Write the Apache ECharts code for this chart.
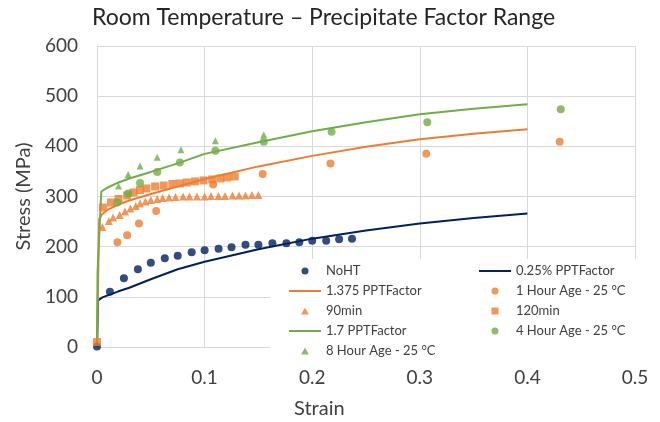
<!DOCTYPE html>
<html>
<head>
<meta charset="utf-8">
<script src="https://cdn.jsdelivr.net/npm/echarts@6/dist/echarts.min.js"></script>
<style>html,body{margin:0;padding:0;background:#fff}#c{width:660px;height:422px}</style>
</head>
<body>
<div id="c"></div>
<script>
// ---- Data (strain, stress MPa) ----
const noHT_strain = [0, 0.012, 0.025, 0.038, 0.050, 0.063, 0.075, 0.088, 0.100, 0.113, 0.125, 0.138, 0.150, 0.163, 0.176, 0.188, 0.200, 0.213, 0.225, 0.237];
const noHT_stress = [1, 110, 137, 155, 168, 177, 182, 189, 193, 196, 199, 204, 204, 207, 207, 209, 212, 212, 215, 216];

const ppt025_strain = [0, 0.001, 0.005, 0.01, 0.02, 0.03, 0.05, 0.075, 0.1, 0.15, 0.2, 0.25, 0.3, 0.35, 0.4];
const ppt025_stress = [0, 93, 99, 103, 111, 118, 135, 155, 170, 195, 216, 232, 246, 257, 266];

const ppt1375_strain = [0, 0.002, 0.005, 0.01, 0.02, 0.03, 0.05, 0.075, 0.1, 0.15, 0.2, 0.25, 0.3, 0.35, 0.4];
const ppt1375_stress = [0, 255, 265, 274, 284, 292, 305, 320, 335, 360, 381, 399, 414, 425, 434];

const hr1_strain = [0.019, 0.028, 0.039, 0.055, 0.108, 0.154, 0.217, 0.306, 0.430];
const hr1_stress = [209, 223, 246, 271, 324, 345, 366, 385, 409];

const min90_strain = [0.005, 0.011, 0.015, 0.021, 0.026, 0.031, 0.036, 0.040, 0.045, 0.050, 0.056, 0.061, 0.067, 0.073, 0.080, 0.086, 0.093, 0.100, 0.106, 0.113, 0.119, 0.126, 0.132, 0.138, 0.144, 0.150];
const min90_stress = [239, 251, 258, 263, 270, 276, 281, 286, 290, 293, 295, 297, 298, 299, 300, 300, 300, 300, 301, 301, 301, 302, 302, 302, 303, 303];

const min120_strain = [0, 0.0055, 0.013, 0.020, 0.028, 0.034, 0.040, 0.046, 0.054, 0.062, 0.070, 0.077, 0.0835, 0.091, 0.099, 0.107, 0.1145, 0.121, 0.128];
const min120_stress = [10, 278, 288, 295, 302, 308, 313, 316, 320, 322, 325, 326, 328, 330, 332, 334, 336, 338, 340];

const ppt17_strain = [0, 0.0005, 0.004, 0.01, 0.02, 0.03, 0.05, 0.075, 0.1, 0.15, 0.2, 0.25, 0.3, 0.35, 0.4];
const ppt17_stress = [0, 150, 310, 318, 328, 336, 349, 366, 385, 408, 430, 448, 464, 475, 484];

const hr4_strain = [0.019, 0.029, 0.040, 0.056, 0.077, 0.110, 0.155, 0.218, 0.307, 0.431];
const hr4_stress = [288, 306, 327, 349, 368, 391, 409, 429, 448, 474];

const hr8_strain = [0.020, 0.029, 0.040, 0.056, 0.078, 0.110, 0.155];
const hr8_stress = [321, 344, 361, 378, 393, 411, 423];

const xTicks = { min: 0, max: 0.5, interval: 0.1 };
const yTicks = { min: 0, max: 600, interval: 100 };

const NAVY = '#002060', ORANGE = '#ED7D31', GREEN = '#70AD47';
const zip = (a, b) => a.map((v, i) => [v, b[i]]);
const FONT = 'Lato';
const TXT = '#404040';

const TRI_ICON = 'path://M5,0 L10,9 L0,9 Z';
const SQ_ICON = 'path://M0,0 L10,0 L10,10 L0,10 Z';

const chart = echarts.init(document.getElementById('c'), null, { renderer: 'canvas' });

function scatter(name, xs, ys, color, symbol, size) {
  return { name, type: 'scatter', data: zip(xs, ys), symbol, symbolSize: size,
    itemStyle: { color }, z: 2 };
}
function line(name, xs, ys, color) {
  return { name, type: 'line', data: zip(xs, ys), showSymbol: false, symbol: 'none',
    lineStyle: { color, width: 2 }, itemStyle: { color }, z: 2 };
}
const lineItem = (name) => ({ name, itemStyle: { opacity: 0, color: 'rgba(0,0,0,0)' } });
const markItem = (name, icon) => ({ name, icon });

const legendCommon = {
  orient: 'vertical', itemWidth: 32, itemHeight: 7, itemGap: 4, itemTextGap: 3,
  symbolKeepAspect: true,
  textStyle: { fontFamily: FONT, fontSize: 13, color: TXT, lineHeight: 16 },
  padding: 0, z: 5
};

chart.setOption({
  animation: false,
  backgroundColor: '#fff',
  title: [
    { text: 'Room Temperature \u2013 Precipitate Factor Range', left: 92, top: 6, padding: 0,
      textStyle: { fontFamily: FONT, fontSize: 23, fontWeight: 'normal', color: '#262626' } },
    { text: 'Strain', left: 294, top: 399, padding: 0,
      textStyle: { fontFamily: FONT, fontSize: 20, fontWeight: 'normal', color: TXT } }
  ],
  grid: { left: 97, right: 25, top: 46, bottom: 75, containLabel: false },
  xAxis: {
    type: 'value', min: xTicks.min, max: xTicks.max, interval: xTicks.interval,
    axisLine: { show: true, lineStyle: { color: '#D9D9D9', width: 1 } },
    axisTick: { show: false },
    axisLabel: { fontFamily: FONT, fontSize: 19, color: TXT, margin: 21 },
    splitLine: { show: true, lineStyle: { color: '#D9D9D9', width: 1 } }
  },
  yAxis: {
    type: 'value', min: yTicks.min, max: yTicks.max, interval: yTicks.interval,
    name: 'Stress (MPa)', nameLocation: 'middle', nameGap: 62, nameRotate: 90,
    nameTextStyle: { fontFamily: FONT, fontSize: 20, color: TXT },
    axisLine: { show: true, lineStyle: { color: '#D9D9D9', width: 1 } },
    axisTick: { show: false },
    axisLabel: { fontFamily: FONT, fontSize: 19, color: TXT, margin: 19 },
    splitLine: { show: true, lineStyle: { color: '#D9D9D9', width: 1 } }
  },
  graphic: [
    { type: 'rect', left: 270, top: 259, shape: { width: 385, height: 106 },
      style: { fill: '#fff' }, z: 3 }
  ],
  legend: [
    Object.assign({}, legendCommon, { left: 288, top: 263,
      data: [markItem('NoHT', 'circle'), lineItem('1.375 PPTFactor'), markItem('90min', TRI_ICON),
             lineItem('1.7 PPTFactor'), markItem('8 Hour Age - 25 \u00B0C', TRI_ICON)] }),
    Object.assign({}, legendCommon, { left: 478, top: 263,
      data: [lineItem('0.25% PPTFactor'), markItem('1 Hour Age - 25 \u00B0C', 'circle'),
             markItem('120min', SQ_ICON), markItem('4 Hour Age - 25 \u00B0C', 'circle')] })
  ],
  series: [
    scatter('NoHT', noHT_strain, noHT_stress, NAVY, 'circle', 8),
    line('0.25% PPTFactor', ppt025_strain, ppt025_stress, NAVY),
    line('1.375 PPTFactor', ppt1375_strain, ppt1375_stress, ORANGE),
    scatter('1 Hour Age - 25 \u00B0C', hr1_strain, hr1_stress, ORANGE, 'circle', 8),
    scatter('90min', min90_strain, min90_stress, ORANGE, 'triangle', 8),
    scatter('120min', min120_strain, min120_stress, ORANGE, 'rect', 8),
    line('1.7 PPTFactor', ppt17_strain, ppt17_stress, GREEN),
    scatter('4 Hour Age - 25 \u00B0C', hr4_strain, hr4_stress, GREEN, 'circle', 8),
    scatter('8 Hour Age - 25 \u00B0C', hr8_strain, hr8_stress, GREEN, 'triangle', 7)
  ]
});
</script>
</body>
</html>
